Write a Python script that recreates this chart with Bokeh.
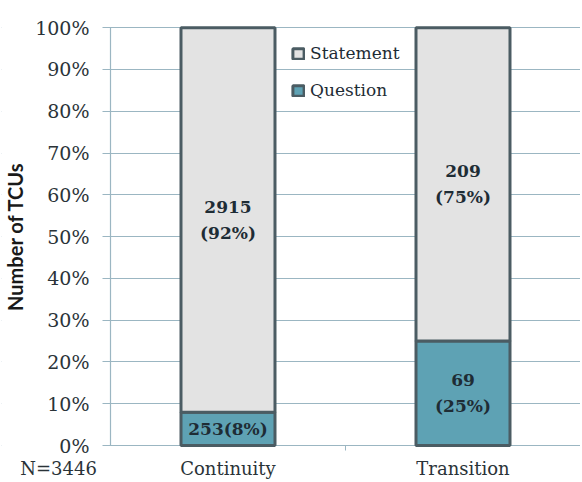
from bokeh.plotting import figure
from bokeh.models import (Range1d, FixedTicker, Legend, LegendItem, ColumnDataSource, BoxAnnotation)
from bokeh.core.properties import value
from bokeh.embed import file_html
from bokeh.resources import INLINE

categories = ["Continuity", "Transition"]
statement_counts = [2915, 209]
question_counts = [253, 69]
statement_pct = [92, 75]
question_pct = [8, 25]
question_sep = ["", "\n"]
y_ticks = [0, 10, 20, 30, 40, 50, 60, 70, 80, 90, 100]
y_tick_labels = ["0%", "10%", "20%", "30%", "40%", "50%", "60%", "70%", "80%", "90%", "100%"]
n_total = 3446
y_title = "Number of TCUs"

FONT = "DejaVu Serif"
GRID = "#9bb6c2"
EDGE = "#4b5c63"
TXT = "#1e2c35"

# layout constants: the frame covers the whole canvas so the axis texts sit inside it
X_LEFT, X_RIGHT = -0.4638, 2.0     # one category slot = 1.0
Y_BOTTOM, Y_TOP = -8.6, 106.5      # percent units
N_POS = -0.221                     # where the total-count note sits under the axis
GRID_START = -0.034                # gridlines poke out left of the axis like tick marks

xpos = [i + 0.5 for i in range(len(categories))]
q_top = question_pct
s_top = [q + s for q, s in zip(question_pct, statement_pct)]
src = ColumnDataSource(dict(
    x=xpos,
    q_top=q_top,
    s_top=s_top,
    q_mid=[q / 2 for q in question_pct],
    s_mid=[q + s / 2 for q, s in zip(question_pct, statement_pct)],
    q_lab=[f"{c}{sep}({p}%)" for c, sep, p in zip(question_counts, question_sep, question_pct)],
    s_lab=[f"{c}\n({p}%)" for c, p in zip(statement_counts, statement_pct)],
))

p = figure(width=580, height=481, output_backend="svg", toolbar_location=None,
           x_range=Range1d(X_LEFT, X_RIGHT), y_range=Range1d(Y_BOTTOM, Y_TOP),
           min_border_left=1, min_border_top=0, min_border_bottom=0, min_border_right=0)
p.outline_line_color = None
p.background_fill_color = "white"

p.xgrid.grid_line_color = None
p.ygrid.grid_line_color = GRID
p.ygrid.grid_line_width = 1.2
p.ygrid.ticker = FixedTicker(ticks=y_ticks)
# keep the gridlines from running under the value-axis texts
p.add_layout(BoxAnnotation(right=GRID_START, fill_color="white", fill_alpha=1,
                           line_color=None, level="underlay"))

p.yaxis.fixed_location = 0
p.yaxis.bounds = (y_ticks[0], y_ticks[-1])
p.yaxis.ticker = FixedTicker(ticks=y_ticks)
p.yaxis.major_label_overrides = {t: l for t, l in zip(y_ticks, y_tick_labels)}
p.yaxis.axis_line_color = GRID
p.yaxis.axis_line_width = 1.2
p.yaxis.major_tick_line_color = None
p.yaxis.minor_tick_line_color = None
p.yaxis.major_tick_out = 8
p.yaxis.major_tick_in = 0
p.yaxis.major_label_standoff = 13
p.yaxis.major_label_text_font = FONT
p.yaxis.major_label_text_font_size = "19px"
p.yaxis.major_label_text_color = "#2a3338"
p.yaxis.axis_label = y_title
p.yaxis.axis_label_text_font = "Lato"
p.yaxis.axis_label_text_font_style = "bold"
p.yaxis.axis_label_text_font_size = "20px"
p.yaxis.axis_label_text_color = "#1a1a1a"
p.yaxis.axis_label_standoff = 5

p.xaxis.fixed_location = 0
p.xaxis.ticker = FixedTicker(ticks=[N_POS] + xpos, minor_ticks=[1.0, 2.0])
p.xaxis.major_label_overrides = {N_POS: f"N={n_total}", **{x: c for x, c in zip(xpos, categories)}}
p.xaxis.axis_line_color = None
p.xaxis.major_tick_line_color = None
p.xaxis.minor_tick_line_color = GRID
p.xaxis.minor_tick_out = 5
p.xaxis.minor_tick_in = 0
p.xaxis.major_label_standoff = 6
p.xaxis.major_label_text_font = FONT
p.xaxis.major_label_text_font_size = "18px"
p.xaxis.major_label_text_color = "#2a3338"

r_q = p.vbar(x="x", width=0.40, bottom=0, top="q_top", source=src,
             fill_color="#5ea2b4", line_color=EDGE, line_width=3)
r_s = p.vbar(x="x", width=0.40, bottom="q_top", top="s_top", source=src,
             fill_color="#e3e3e3", line_color=EDGE, line_width=3)

for ycol, lcol in (("q_mid", "q_lab"), ("s_mid", "s_lab")):
    p.text(x="x", y=ycol, text=lcol, source=src, text_align="center", text_baseline="middle",
           text_font=value(FONT), text_font_style="bold", text_font_size="17px",
           text_color=TXT, text_line_height=1.3)

legend = Legend(items=[LegendItem(label="Statement", renderers=[r_s]),
                       LegendItem(label="Question", renderers=[r_q])],
                location=(290, 381), padding=0, margin=0, spacing=17,
                glyph_width=14, glyph_height=13, label_height=13, label_standoff=5,
                background_fill_alpha=0, border_line_color=None,
                label_text_font=FONT, label_text_font_size="17px", label_text_color=TXT)
p.add_layout(legend)

open("out.html", "w").write(file_html(p, INLINE))
